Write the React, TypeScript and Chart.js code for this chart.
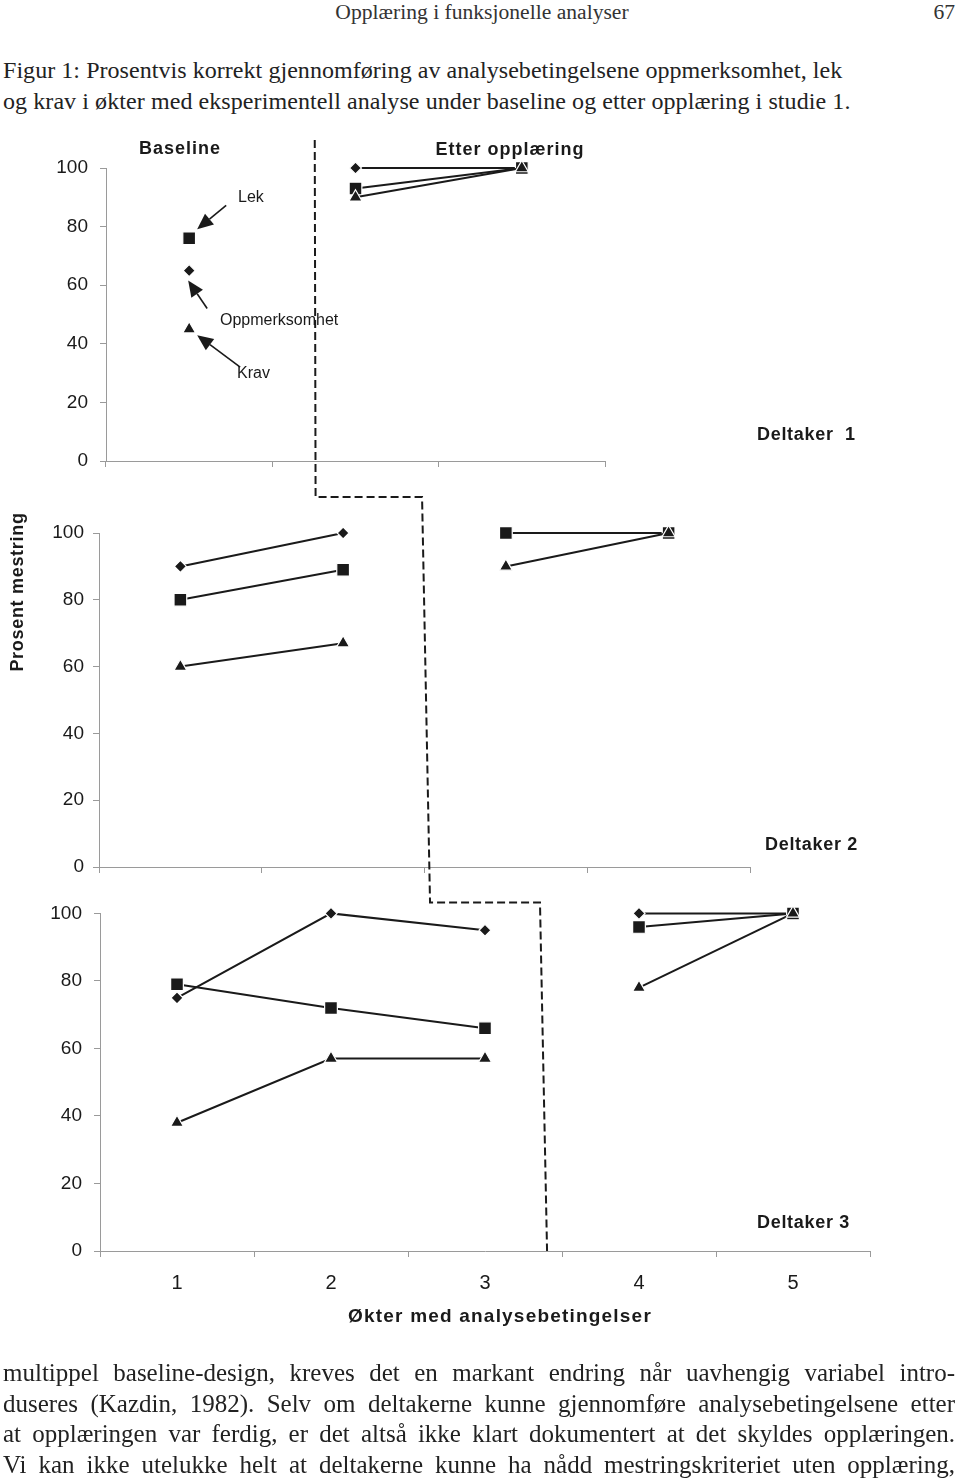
import React, { useEffect, useRef } from 'react';
import { Chart, registerables } from 'chart.js';

Chart.register(...registerables);

// ---------- DATA ----------
const yTicks = [0, 20, 40, 60, 80, 100];

const p1Sessions = ['1', '2', '3'];
const p1Oppmerksomhet = [65, 100, 100];
const p1Lek = [76, 93, 100];
const p1Krav = [45, 90, 100];
const p1BaselineCount = 1;

const p2Sessions = ['1', '2', '3', '4'];
const p2Oppmerksomhet = [90, 100, 100, 100];
const p2Lek = [80, 89, 100, 100];
const p2Krav = [60, 67, 90, 100];
const p2BaselineCount = 2;

const p3Sessions = ['1', '2', '3', '4', '5'];
const p3Oppmerksomhet = [75, 100, 95, 100, 100];
const p3Lek = [79, 72, 66, 96, 100];
const p3Krav = [38, 57, 57, 78, 100];
const p3BaselineCount = 3;

// phase-change line position in session-index units (top, bottom)
const p1PhaseLine = [0.755, 0.76];
const p2PhaseLine = [1.485, 1.534];
const p3PhaseLine = [2.357, 2.403];

const xAxisTitle = 'Økter med analysebetingelser';
const yAxisTitle = 'Prosent mestring';
const headerText = 'Opplæring i funksjonelle analyser';
const pageNumber = '67';
const captionLines = [
  'Figur 1: Prosentvis korrekt gjennomføring av analysebetingelsene oppmerksomhet, lek',
  'og krav i økter med eksperimentell analyse under baseline og etter opplæring i studie 1.',
];
const captionSpacing = [0.05, 0.08];
const bodyLines = [
  'multippel baseline-design, kreves det en markant endring når uavhengig variabel intro-',
  'duseres (Kazdin, 1982). Selv om deltakerne kunne gjennomføre analysebetingelsene etter',
  'at opplæringen var ferdig, er det altså ikke klart dokumentert at det skyldes opplæringen.',
  'Vi kan ikke utelukke helt at deltakerne kunne ha nådd mestringskriteriet uten opplæring,',
];

// ---------- STYLE ----------
const SANS = "'Liberation Sans', Arial, sans-serif";
const SERIF = "'Liberation Serif', 'DejaVu Serif', serif";
const INK = '#1a1a1a';
const AXIS = '#9a9a9a';

const P1 = { top: 125, height: 385, padTop: 43, padRight: 355, padBottom: 37, yWidth: 106, xHeight: 12, yPad: 12, showX: false };
const P2 = { top: 510, height: 380, padTop: 23, padRight: 210, padBottom: 11, yWidth: 99, xHeight: 12, yPad: 9, showX: false };
const P3 = { top: 890, height: 450, padTop: 23, padRight: 90, padBottom: 0, yWidth: 100, xHeight: 89, yPad: 12, showX: true };

const seriesStyles = [
  { key: 'Krav', pointStyle: 'triangle', radius: 7.5, order: 0 },
  { key: 'Lek', pointStyle: 'rect', radius: 9, order: 1 },
  { key: 'Oppmerksomhet', pointStyle: 'rectRot', radius: 6, order: 2 },
];

function makeDatasets(opp: number[], lek: number[], krav: number[], baselineCount: number) {
  const src: Record<string, number[]> = { Oppmerksomhet: opp, Lek: lek, Krav: krav };
  const out: any[] = [];
  for (const s of seriesStyles) {
    const data = src[s.key];
    const phases = [
      [0, baselineCount],
      [baselineCount, data.length],
    ];
    for (const [a, b] of phases) {
      out.push({
        label: s.key,
        data: data.map((v, i) => (i >= a && i < b ? v : null)),
        borderColor: INK,
        borderWidth: 2,
        backgroundColor: INK,
        pointStyle: s.pointStyle,
        pointRadius: s.radius,
        pointBackgroundColor: INK,
        pointBorderColor: '#ffffff',
        pointBorderWidth: 1.2,
        order: s.order,
        spanGaps: false,
        clip: false,
        tension: 0,
      });
    }
  }
  return out;
}

type TextItem = { text: string; x: number; y: number; font: string; align: CanvasTextAlign; spacing?: number };
type ArrowItem = { session: number; value: number; tip: [number, number]; tail: [number, number] };

const annotationPlugin = {
  id: 'annotationPlugin',
  afterDraw(chart: any, _args: any, opts: any) {
    const ctx: any = chart.ctx;
    const canvasTop: number = opts.canvasTop;
    ctx.save();
    ctx.fillStyle = INK;
    ctx.strokeStyle = INK;
    ctx.textBaseline = 'middle';
    (opts.texts || []).forEach((t: TextItem) => {
      ctx.font = t.font;
      ctx.textAlign = t.align;
      ctx.letterSpacing = (t.spacing || 0) + 'px';
      ctx.fillText(t.text, t.x, t.y - canvasTop);
    });
    ctx.letterSpacing = '0px';
    (opts.arrows || []).forEach((a: ArrowItem) => {
      const px = chart.scales.x.getPixelForValue(a.session);
      const py = chart.scales.y.getPixelForValue(a.value);
      const tx = px + a.tip[0];
      const ty = py + a.tip[1];
      const sx = px + a.tail[0];
      const sy = py + a.tail[1];
      const ang = Math.atan2(ty - sy, tx - sx);
      const headLen = 16;
      const headW = 7;
      const bx = tx - Math.cos(ang) * headLen;
      const by = ty - Math.sin(ang) * headLen;
      ctx.lineWidth = 1.6;
      ctx.beginPath();
      ctx.moveTo(sx, sy);
      ctx.lineTo(bx, by);
      ctx.stroke();
      ctx.beginPath();
      ctx.moveTo(tx, ty);
      ctx.lineTo(bx + Math.sin(ang) * headW, by - Math.cos(ang) * headW);
      ctx.lineTo(bx - Math.sin(ang) * headW, by + Math.cos(ang) * headW);
      ctx.closePath();
      ctx.fill();
    });
    ctx.restore();
  },
};

function makeChart(canvas: HTMLCanvasElement, cfg: any, labels: string[], datasets: any[], annotations: any) {
  return new Chart(canvas, {
    type: 'line',
    data: { labels, datasets },
    plugins: [annotationPlugin],
    options: {
      responsive: false,
      animation: false,
      events: [],
      layout: { padding: { top: cfg.padTop, right: cfg.padRight, bottom: cfg.padBottom, left: 0 } },
      plugins: {
        legend: { display: false },
        tooltip: { enabled: false },
        annotationPlugin: { canvasTop: cfg.top, ...annotations },
      } as any,
      scales: {
        x: {
          type: 'category',
          offset: true,
          grid: { offset: true, drawOnChartArea: false, drawTicks: true, tickLength: 6, color: AXIS, lineWidth: 1 },
          border: { display: true, color: AXIS, width: 1 },
          ticks: { display: cfg.showX, color: INK, font: { family: SANS, size: 20 }, padding: 14, maxRotation: 0 },
          title: { display: false },
          afterFit: (s: any) => {
            s.height = cfg.xHeight;
          },
        },
        y: {
          min: 0,
          max: 100,
          afterBuildTicks: (s: any) => {
            s.ticks = yTicks.map((v) => ({ value: v }));
          },
          grid: { drawOnChartArea: false, drawTicks: true, tickLength: 6, color: AXIS, lineWidth: 1 },
          border: { display: true, color: AXIS, width: 1 },
          ticks: { color: INK, font: { family: SANS, size: 19 }, padding: cfg.yPad },
          afterFit: (s: any) => {
            s.width = cfg.yWidth;
          },
        },
      } as any,
    },
  } as any);
}

export default function App() {
  const c1 = useRef<HTMLCanvasElement>(null);
  const c2 = useRef<HTMLCanvasElement>(null);
  const c3 = useRef<HTMLCanvasElement>(null);
  const ov = useRef<HTMLCanvasElement>(null);

  useEffect(() => {
    const bold18 = `bold 18px ${SANS}`;
    const bold19 = `bold 19px ${SANS}`;
    const reg16 = `16px ${SANS}`;
    const ch1 = makeChart(c1.current!, P1, p1Sessions, makeDatasets(p1Oppmerksomhet, p1Lek, p1Krav, p1BaselineCount), {
      texts: [
        { text: 'Baseline', x: 180, y: 149, font: bold18, align: 'center', spacing: 1 },
        { text: 'Etter opplæring', x: 510, y: 150, font: bold18, align: 'center', spacing: 1 },
        { text: 'Deltaker  1', x: 757, y: 435, font: bold18, align: 'left', spacing: 0.7 },
        { text: 'Lek', x: 238, y: 198, font: reg16, align: 'left' },
        { text: 'Oppmerksomhet', x: 220, y: 321, font: reg16, align: 'left' },
        { text: 'Krav', x: 237, y: 374, font: reg16, align: 'left' },
      ],
      arrows: [
        { session: 0, value: p1Lek[0], tip: [8, -9], tail: [37, -33] },
        { session: 0, value: p1Oppmerksomhet[0], tip: [-1, 10], tail: [18, 38] },
        { session: 0, value: p1Krav[0], tip: [8, 6], tail: [51, 38] },
      ],
    });
    const ch2 = makeChart(c2.current!, P2, p2Sessions, makeDatasets(p2Oppmerksomhet, p2Lek, p2Krav, p2BaselineCount), {
      texts: [{ text: 'Deltaker 2', x: 765, y: 845, font: bold18, align: 'left', spacing: 0.7 }],
    });
    const ch3 = makeChart(c3.current!, P3, p3Sessions, makeDatasets(p3Oppmerksomhet, p3Lek, p3Krav, p3BaselineCount), {
      texts: [
        { text: 'Deltaker 3', x: 757, y: 1223, font: bold18, align: 'left', spacing: 0.7 },
        { text: xAxisTitle, x: 500, y: 1317, font: bold19, align: 'center', spacing: 1.2 },
      ],
    });

    // phase-change dashed line across the three panels
    const octx = ov.current!.getContext('2d')!;
    octx.clearRect(0, 0, 960, 1481);
    const px = (c: any, v: number) => c.scales.x.getPixelForValue(v);
    const yStart = P1.top + ch1.chartArea.top - 28;
    const yConn1 = P2.top + ch2.chartArea.top - 36;
    const yConn2 = P3.top + ch3.chartArea.top - 11;
    const yEnd = P3.top + ch3.chartArea.bottom;
    octx.save();
    octx.strokeStyle = INK;
    octx.lineWidth = 2;
    octx.setLineDash([8, 4]);
    octx.beginPath();
    octx.moveTo(px(ch1, p1PhaseLine[0]), yStart);
    octx.lineTo(px(ch1, p1PhaseLine[1]), yConn1);
    octx.lineTo(px(ch2, p2PhaseLine[0]), yConn1);
    octx.lineTo(px(ch2, p2PhaseLine[1]), yConn2);
    octx.lineTo(px(ch3, p3PhaseLine[0]), yConn2);
    octx.lineTo(px(ch3, p3PhaseLine[1]), yEnd);
    octx.stroke();
    octx.restore();

    return () => {
      ch1.destroy();
      ch2.destroy();
      ch3.destroy();
    };
  }, []);

  const serifLine = (text: string, top: number, size: number, justify: boolean, key: string, spacing = 0) => (
    <div
      key={key}
      style={{
        position: 'absolute',
        left: 3,
        top,
        width: justify ? 952 : 940,
        height: 30,
        lineHeight: '30px',
        fontSize: size,
        fontFamily: SERIF,
        color: '#222',
        whiteSpace: 'nowrap',
        letterSpacing: spacing,
        textAlign: justify ? 'justify' : 'left',
        textAlignLast: justify ? 'justify' : 'left',
      } as any}
    >
      {text}
    </div>
  );

  return (
    <div style={{ position: 'absolute', left: 0, top: 0, width: 960, height: 1481, background: '#fff', overflow: 'hidden' }}>
      <div style={{ position: 'absolute', left: 0, top: -3, width: 964, textAlign: 'center', fontFamily: SERIF, fontSize: 21.6, lineHeight: '30px', color: '#333' }}>
        {headerText}
      </div>
      <div style={{ position: 'absolute', right: 5, top: -3, fontFamily: SERIF, fontSize: 21.6, lineHeight: '30px', color: '#333' }}>{pageNumber}</div>
      {captionLines.map((t, i) => serifLine(t, 55 + i * 30.5, 24, false, 'c' + i, captionSpacing[i]))}
      <canvas ref={c1} width={960} height={P1.height} style={{ position: 'absolute', left: 0, top: P1.top }} />
      <canvas ref={c2} width={960} height={P2.height} style={{ position: 'absolute', left: 0, top: P2.top }} />
      <canvas ref={c3} width={960} height={P3.height} style={{ position: 'absolute', left: 0, top: P3.top }} />
      <canvas ref={ov} width={960} height={1481} style={{ position: 'absolute', left: 0, top: 0, pointerEvents: 'none' }} />
      <div
        style={{
          position: 'absolute',
          left: 17 - 100,
          top: 592 - 12,
          width: 200,
          height: 24,
          lineHeight: '24px',
          textAlign: 'center',
          transform: 'rotate(-90deg)',
          fontFamily: SANS,
          fontWeight: 'bold',
          fontSize: 18,
          letterSpacing: 0.7,
          color: INK,
        }}
      >
        {yAxisTitle}
      </div>
      {bodyLines.map((t, i) => serifLine(t, 1358 + i * 30.6, 25, true, 'b' + i))}
    </div>
  );
}
